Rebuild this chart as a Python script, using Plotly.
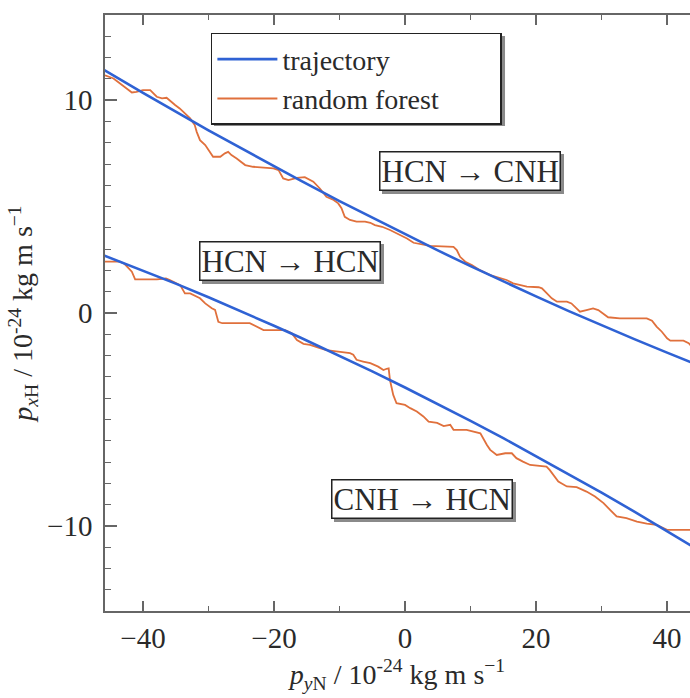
import plotly.graph_objects as go

# ---- HCN -> CNH branch (upper) ----
traj_upper_x = [-46, -40, -30, -20, -16, -10, -5, 0, 5, 10, 15, 20, 25, 30, 35, 40, 44]
traj_upper_y = [11.43, 10.34, 8.58, 6.88, 6.23, 5.26, 4.48, 3.70, 2.94, 2.20, 1.48, 0.78, 0.09, -0.58, -1.23, -1.86, -2.36]

rf_upper_x = [-45.8, -44.5, -43.5, -42.5, -41.7, -41.0, -40.0, -38.9, -37.9, -37.1, -36.4, -35.1, -34.4,
              -32.8, -32.1, -31.8, -31.3, -30.5, -30.0, -29.3, -28.2, -27.5, -27.0, -26.5, -25.7, -24.4,
              -23.2, -20.1, -19.3, -18.6, -17.8, -16.5, -15.3, -14.0, -13.0, -12.0, -10.9, -10.2, -9.7,
              -9.2, -8.4, -7.4, -6.1, -5.3, -4.6, -3.5, -2.3, -0.8, 0.3, 1.3, 2.8, 3.8, 7.4, 7.9, 8.4,
              9.2, 10.2, 11.5, 13.0, 14.5, 15.5, 16.5, 18.6, 20.4, 20.9, 21.4, 22.4, 23.2, 24.7, 25.4,
              26.2, 26.7, 27.7, 28.7, 29.5, 30.3, 31.0, 32.8, 36.9, 37.7, 38.4, 39.2, 40.0, 40.5, 42.5,
              43.3, 44.0]
rf_upper_y = [11.17, 11.02, 10.78, 10.55, 10.36, 10.39, 10.47, 10.47, 10.16, 10.08, 10.11, 9.77, 9.61,
              9.14, 8.83, 8.51, 8.12, 7.89, 7.65, 7.34, 7.34, 7.50, 7.57, 7.42, 7.26, 6.95,
              6.87, 6.79, 6.71, 6.32, 6.24, 6.35, 6.38, 6.17, 5.85, 5.46, 5.31, 5.15, 4.92,
              4.52, 4.37, 4.29, 4.29, 4.24, 4.13, 4.05, 3.90, 3.66, 3.50, 3.30, 3.19, 3.15, 3.11, 2.96, 2.64,
              2.41, 2.25, 2.00, 1.78, 1.63, 1.55, 1.39, 1.24, 1.21, 1.16, 1.00, 0.69, 0.53, 0.53, 0.45,
              0.22, 0.06, 0.14, 0.22, 0.14, -0.02, -0.20, -0.25, -0.25, -0.36, -0.64, -0.88, -1.19, -1.30, -1.30,
              -1.42, -1.66]

# ---- HCN -> HCN / CNH -> HCN branch (lower) ----
traj_lower_x = [-46, -40, -35, -30, -25, -20, -16, -10, -5, 0, 5, 10, 15, 20, 25, 30, 35, 40, 44]
traj_lower_y = [2.71, 2.00, 1.38, 0.74, 0.08, -0.60, -1.15, -2.01, -2.74, -3.50, -4.28, -5.07, -5.88, -6.72,
                -7.57, -8.44, -9.33, -10.24, -10.99]

rf_lower_x = [-46.0, -43.5, -42.8, -41.7, -41.2, -40.5, -37.9, -36.5, -35.9, -34.9, -34.3, -33.6, -32.8,
              -31.3, -30.5, -29.5, -29.0, -28.5, -27.9, -23.7, -22.7, -21.6, -19.6, -18.3, -17.3, -16.5,
              -15.5, -14.5, -13.0, -12.0, -10.5, -8.4, -7.9, -7.4, -6.4, -5.3, -4.1, -3.3, -2.8, -2.5,
              -2.3, -1.8, -1.3, 0.0, 0.8, 1.8, 2.8, 3.6, 4.9, 5.9, 6.9, 7.4, 9.4, 10.7, 11.5, 12.5,
              13.0, 14.0, 15.3, 16.3, 17.0, 18.0, 19.1, 21.6, 22.1, 23.4, 24.7, 26.2, 27.7, 29.0, 30.3,
              31.3, 32.3, 33.8, 35.4, 36.9, 38.4, 40.0, 44.0]
rf_lower_y = [2.41, 2.41, 2.30, 1.94, 1.58, 1.58, 1.58, 1.62, 1.55, 1.39, 1.30, 0.92, 0.92,
              0.69, 0.45, 0.22, 0.15, -0.41, -0.48, -0.48, -0.64, -0.80, -0.80, -0.80, -0.95, -1.27,
              -1.45, -1.50, -1.65, -1.74, -1.80, -1.89, -1.96, -2.20, -2.28, -2.36, -2.52, -2.68, -2.62, -2.60,
              -3.15, -3.85, -4.24, -4.32, -4.47, -4.63, -4.86, -5.10, -5.16, -5.31, -5.25, -5.49, -5.49, -5.57,
              -5.65, -6.20, -6.43, -6.67, -6.59, -6.59, -6.82, -6.98, -7.14, -7.22, -7.38, -7.92, -8.15, -8.18,
              -8.39, -8.62, -8.93, -9.25, -9.56, -9.64, -9.80, -9.90, -9.95, -10.19, -10.19]

# ---- box labels ----
label_text = ["HCN → CNH", "HCN → HCN", "CNH → HCN"]
label_x = [9.9, -17.6, 2.6]
label_y = [6.66, 2.44, -8.73]

BLUE = "#2f62d4"
ORANGE = "#e0703c"
AXIS = "#666666"
TEXT = "#2a2a2a"
SHADOW = "#8a8a8a"
FONT = '"Liberation Serif", "Times New Roman", Times, serif'
PAD = "\u00a0" * 8   # widens the legend frame

fig = go.Figure()
# orange predictions first so the blue trajectories sit on top
fig.add_trace(go.Scatter(x=rf_upper_x, y=rf_upper_y, mode="lines", name="random forest" + PAD,
                         line=dict(color=ORANGE, width=1.8), legendgroup="r", legendrank=2))
fig.add_trace(go.Scatter(x=rf_lower_x, y=rf_lower_y, mode="lines", name="random forest",
                         line=dict(color=ORANGE, width=1.8), legendgroup="r", showlegend=False))
fig.add_trace(go.Scatter(x=traj_upper_x, y=traj_upper_y, mode="lines", name="trajectory",
                         line=dict(color=BLUE, width=2.6), legendgroup="t", legendrank=1))
fig.add_trace(go.Scatter(x=traj_lower_x, y=traj_lower_y, mode="lines", name="trajectory",
                         line=dict(color=BLUE, width=2.6), legendgroup="t", showlegend=False))

# framed labels with a grey drop shadow
for t, x, y in zip(label_text, label_x, label_y):
    fig.add_annotation(x=x, y=y, text=t, showarrow=False, xshift=3, yshift=-3,
                       font=dict(family=FONT, size=31, color=SHADOW),
                       bgcolor=SHADOW, bordercolor=SHADOW, borderwidth=1.5, borderpad=1)
    fig.add_annotation(x=x, y=y, text=t, showarrow=False,
                       font=dict(family=FONT, size=31, color=TEXT),
                       bgcolor="white", bordercolor="#222222", borderwidth=1.5, borderpad=1)

# legend shadow
fig.add_shape(type="rect", xref="paper", yref="paper", layer="above",
              x0=0.1863, x1=0.6838, y0=0.8138, y1=0.9648,
              fillcolor=SHADOW, line=dict(width=0))

fig.update_layout(
    width=690, height=698,
    margin=dict(l=105, r=0, t=15, b=87),
    paper_bgcolor="white", plot_bgcolor="white",
    font=dict(family=FONT, color=TEXT),
    legend=dict(x=0.181, y=0.970, xanchor="left", yanchor="top",
                bgcolor="white", bordercolor="#222222", borderwidth=1.5,
                font=dict(family=FONT, size=28, color=TEXT), itemwidth=60,
                tracegroupgap=0),
    xaxis=dict(range=[-45.8, 43.5], tickvals=[-40, -20, 0, 20, 40],
               ticks="inside", ticklen=10, tickwidth=1.5, tickcolor=AXIS,
               showline=True, linecolor=AXIS, linewidth=1.5, mirror="ticks",
               showgrid=False, zeroline=False,
               tickfont=dict(family=FONT, size=29, color=TEXT),
               minor=dict(dtick=10, tick0=0, ticks="inside", ticklen=5, tickwidth=1.2, tickcolor=AXIS),
               title=dict(text="<i>p</i><sub><i>y</i>N</sub> / 10<sup>-24</sup> kg m s<sup>−1</sup>",
                          font=dict(family=FONT, size=28, color=TEXT), standoff=12)),
    yaxis=dict(range=[-14, 14], tickvals=[-10, 0, 10],
               ticks="inside", ticklen=12, tickwidth=1.5, tickcolor=AXIS,
               showline=True, linecolor=AXIS, linewidth=1.5,
               showgrid=False, zeroline=False, ticklabelstandoff=5,
               tickfont=dict(family=FONT, size=29, color=TEXT),
               minor=dict(dtick=1, tick0=0, ticks="inside", ticklen=6, tickwidth=1.2, tickcolor=AXIS),
               title=dict(text="<i>p</i><sub><i>x</i>H</sub> / 10<sup>-24</sup> kg m s<sup>−1</sup>",
                          font=dict(family=FONT, size=28, color=TEXT), standoff=6)),
)

fig.write_html("out.html")
